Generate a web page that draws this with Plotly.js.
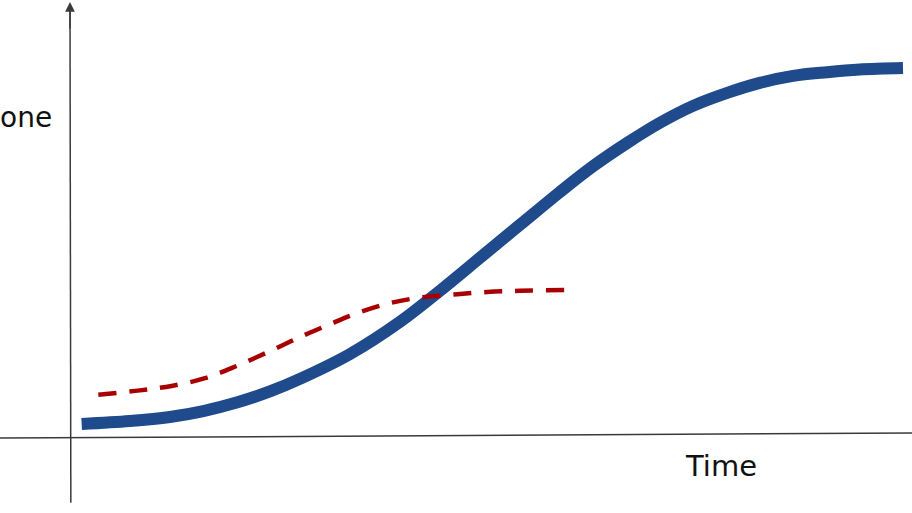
<!DOCTYPE html>
<html>
<head>
<meta charset="utf-8">
<script src="https://cdn.plot.ly/plotly-3.0.1.min.js"></script>
<style>
  html, body { margin: 0; padding: 0; background: #fff; }
  #chart { width: 912px; height: 513px; }
</style>
</head>
<body>
<div id="chart"></div>
<script>
// values (arbitrary units, time 0..10, level 0..10)
const blueTime = [0.14, 0.72, 1.2, 1.6, 2.0, 2.4, 2.76, 3.36, 3.96, 4.44, 4.92, 5.4, 5.88, 6.28, 6.69, 7.08, 7.48, 7.89, 8.28, 8.68, 9.09, 9.48, 10.0];
const blueLevel = [0.35, 0.43, 0.54, 0.70, 0.93, 1.23, 1.57, 2.24, 3.11, 3.95, 4.84, 5.73, 6.62, 7.32, 7.95, 8.49, 8.95, 9.3, 9.57, 9.76, 9.86, 9.93, 9.97];

const redTime = [0.34, 0.84, 1.22, 1.62, 2.0, 2.4, 2.76, 3.12, 3.45, 3.84, 4.24, 4.65, 5.01, 5.4, 5.94];
const redLevel = [1.14, 1.26, 1.38, 1.59, 1.92, 2.32, 2.70, 3.05, 3.35, 3.62, 3.78, 3.86, 3.92, 3.95, 3.97];

const yLabel = "one";
const xLabel = "Time";

const blueTrace = {
  x: blueTime,
  y: blueLevel,
  mode: "lines",
  type: "scatter",
  line: { color: "#1f4a8c", width: 12, shape: "spline", smoothing: 1 },
  hoverinfo: "skip",
};

const redTrace = {
  x: redTime,
  y: redLevel,
  mode: "lines",
  type: "scatter",
  line: { color: "#a80000", width: 4.5, shape: "spline", smoothing: 1, dash: "18px,13px" },
  hoverinfo: "skip",
};

const axisColor = "#3a3a3a";

const layout = {
  width: 912,
  height: 513,
  margin: { l: 0, r: 0, t: 0, b: 0 },
  paper_bgcolor: "#ffffff",
  plot_bgcolor: "#ffffff",
  showlegend: false,
  xaxis: { range: [-0.8403, 10.108], visible: false, fixedrange: true },
  yaxis: { range: [-2.054, 11.811], visible: false, fixedrange: true },
  shapes: [
    // horizontal (time) axis, drawn a touch tilted like the sketch
    {
      type: "line",
      xref: "paper",
      yref: "y",
      x0: 0,
      y0: -0.03,
      x1: 1,
      y1: 0.11,
      line: { color: axisColor, width: 1.5 },
    },
    // vertical (level) axis
    {
      type: "line",
      xref: "x",
      yref: "y",
      x0: 0.01,
      y0: -1.78,
      x1: 0,
      y1: 11.5,
      line: { color: axisColor, width: 1.5 },
    },
  ],
  annotations: [
    // arrow head on top of the vertical axis
    {
      x: 0,
      y: 11.76,
      ax: 0,
      ay: 11.0,
      xref: "x",
      yref: "y",
      axref: "x",
      ayref: "y",
      text: "",
      showarrow: true,
      arrowhead: 2,
      arrowsize: 1.3,
      arrowwidth: 1.5,
      arrowcolor: axisColor,
      standoff: 0,
      startstandoff: 0,
    },
    {
      x: 54 / 912,
      y: 1 - 117 / 513,
      xref: "paper",
      yref: "paper",
      xanchor: "right",
      yanchor: "middle",
      text: yLabel,
      showarrow: false,
      font: { family: "DejaVu Sans", size: 28, color: "#111" },
    },
    {
      x: 721 / 912,
      y: 1 - 466 / 513,
      xref: "paper",
      yref: "paper",
      xanchor: "center",
      yanchor: "middle",
      text: xLabel,
      showarrow: false,
      font: { family: "DejaVu Sans", size: 29, color: "#111" },
    },
  ],
};

const config = { displayModeBar: false, staticPlot: true };

Plotly.newPlot("chart", [blueTrace, redTrace], layout, config);
</script>
</body>
</html>
